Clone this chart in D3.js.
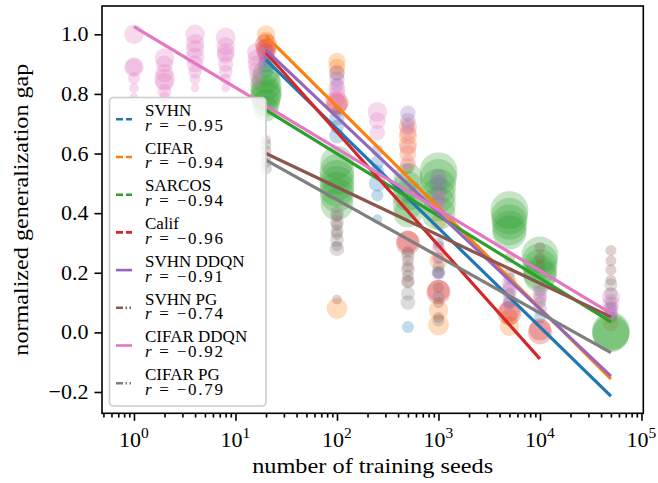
<!DOCTYPE html>
<html><head><meta charset="utf-8">
<script src="https://cdn.jsdelivr.net/npm/d3@7"></script>
<style>
body{margin:0;background:#fff}
svg{display:block}
text{font-family:"Liberation Serif","Times New Roman",serif;fill:#000}
</style>
</head><body>
<svg id="chart" width="658" height="483"></svg>
<script>
// ---------------- data ----------------
const seriesNames = ["SVHN","CIFAR","SARCOS","Calif","SVHN DDQN","SVHN PG","CIFAR DDQN","CIFAR PG"];
const seriesR = ["\u22120.95","\u22120.94","\u22120.94","\u22120.96","\u22120.91","\u22120.74","\u22120.92","\u22120.79"];
const xTicks = [1,10,100,1000,10000,100000];
const yTicks = [-0.2,0,0.2,0.4,0.6,0.8,1.0];

// points: [number of training seeds, normalized gap, marker size]
const svhnPts = [[20,0.92,40],[20,0.90,60],[20,0.88,50],[100,0.74,30],[100,0.72,50],[100,0.69,40],[100,0.66,50],
  [250,0.61,30],[250,0.57,40],[250,0.54,40],[250,0.50,60],[250,0.46,30],[250,0.38,20],[500,0.55,25],[500,0.45,30],[500,0.018,30],
  [1000,0.30,25],[1000,0.20,35],[5000,0.10,30],[10000,0.05,30],[50000,0.08,25],[50000,0.05,30]];
const cifarPts = [[20,1.0,70],[20,0.98,60],[20,0.96,50],[100,0.91,60],[100,0.89,60],[100,0.87,50],[100,0.08,90],
  [500,0.69,70],[500,0.66,70],[500,0.63,70],[500,0.60,60],[500,0.56,50],[1000,0.37,50],[1000,0.24,70],[1000,0.075,80],[1000,0.025,90],
  [5000,0.05,60],[5000,0.02,80],[50000,0.03,50]];
const sarcosPts = [[20,0.87,140],[20,0.85,170],[20,0.83,200],[20,0.81,200],[20,0.80,200],[20,0.79,190],[20,0.77,160],[20,0.75,130],
  [100,0.57,230],[100,0.54,250],[100,0.52,250],[100,0.50,250],[100,0.48,250],[100,0.46,240],[100,0.43,220],
  [500,0.52,170],[500,0.49,190],[500,0.46,200],[500,0.43,190],[500,0.40,170],
  [1000,0.54,300],[1000,0.52,280],[1000,0.49,260],[1000,0.46,250],[1000,0.43,250],[1000,0.40,240],
  [5000,0.41,300],[5000,0.39,280],[5000,0.37,260],[5000,0.35,250],[5000,0.335,240],
  [10000,0.26,280],[10000,0.24,260],[10000,0.22,250],[10000,0.20,240],[10000,0.19,230],
  [50000,0.005,300],[50000,0.0,290],[50000,-0.005,280]];
const califPts = [[20,0.965,100],[20,0.95,90],[20,0.94,70],[100,0.77,110],[100,0.765,90],
  [500,0.30,120],[500,0.305,100],[1000,0.135,120],[1000,0.14,100],[5000,0.065,120],[5000,0.07,90],[10000,0.0,120],[10000,0.01,100]];
const svhnDdqnPts = [[20,0.93,50],[20,0.91,40],[100,0.87,50],[100,0.85,50],[100,0.83,40],
  [500,0.735,50],[500,0.71,50],[500,0.69,40],[1000,0.52,60],[1000,0.50,60],[1000,0.47,50],[1000,0.44,40],[1000,0.20,40],
  [5000,0.15,40],[5000,0.10,40],[10000,0.12,40],[10000,0.08,40],[50000,0.08,40],[50000,0.06,40]];
const svhnPgPts = [[20,0.645,20],[20,0.61,25],[20,0.57,25],[100,0.39,30],[100,0.36,30],[100,0.33,30],[100,0.29,25],[100,0.11,20],
  [500,0.27,30],[500,0.24,30],[500,0.22,30],[500,0.19,30],[500,0.17,30],
  [1000,0.29,25],[1000,0.25,25],[1000,0.20,25],[1000,0.15,25],[1000,0.10,25],[1000,0.05,25],
  [5000,0.25,25],[5000,0.20,25],[10000,0.285,25],[10000,0.25,25],[10000,0.22,25],
  [50000,0.275,25],[50000,0.24,25],[50000,0.21,25],[50000,0.175,25]];
const cifarDdqnPts = [[1,1.0,80],[1,0.89,80],[1,0.89,60],[1,0.853,30],[1,0.82,20],[1,0.79,15],
  [2,0.92,80],[2,0.90,60],[2,0.87,70],[2,0.85,90],[2,0.84,70],[2,0.81,40],[2,0.79,25],[2,0.77,20],
  [4,1.0,80],[4,0.97,70],[4,0.95,70],[4,0.925,70],[4,0.90,60],[4,0.875,40],[4,0.85,25],[4,0.82,15],
  [8,0.99,80],[8,0.96,70],[8,0.94,70],[8,0.93,60],[8,0.90,50],[8,0.875,40],[8,0.85,25],[8,0.82,15],
  [16,0.94,70],[16,0.92,60],[16,0.90,60],[16,0.88,50],[16,0.86,40],[16,0.84,30],
  [100,0.82,60],[100,0.80,60],[100,0.78,50],[250,0.74,80],[250,0.71,60],[250,0.67,50],
  [500,0.67,60],[500,0.62,60],[500,0.57,50],[1000,0.45,50],[1000,0.42,50],[1000,0.28,40],[1000,0.25,40],
  [5000,0.165,50],[5000,0.14,50],[5000,0.12,40],[10000,0.14,50],[10000,0.11,40],
  [50000,0.12,70],[50000,0.10,60],[50000,0.08,50],[50000,0.06,40]];
const cifarPgPts = [[20,0.63,25],[20,0.59,25],[20,0.55,30],[100,0.40,40],[100,0.37,40],[100,0.34,35],[100,0.31,40],[100,0.28,45],
  [500,0.26,40],[500,0.21,40],[500,0.17,40],[500,0.13,40],[500,0.10,45],[1000,0.22,30],[1000,0.12,30],[1000,0.04,30],
  [5000,0.18,30],[5000,0.13,30],[10000,0.14,30],[10000,0.10,30],[50000,0.16,35],[50000,0.13,35],[50000,0.10,30]];

// fitted regression lines: x range and y at the ends
const fitX = [[20,50000],[20,50000],[20,50000],[20,10000],[20,50000],[20,50000],[1,50000],[20,50000]];
const fitY = [[0.914,-0.214],[0.994,-0.156],[0.746,0.035],[0.938,-0.089],[0.947,-0.147],[0.60,0.052],[1.026,0.064],[0.578,-0.068]];

const seriesPts = [svhnPts,cifarPts,sarcosPts,califPts,svhnDdqnPts,svhnPgPts,cifarDdqnPts,cifarPgPts];

// ---------------- style ----------------
const colors = ["#1f77b4","#ff7f0e","#2ca02c","#d62728","#9467bd","#8c564b","#e377c2","#7f7f7f"];
const handleDash = ["7,3","7,3","7,3","7,3",null,"7,2.5,1.5,2.5,1.5,2",null,"7,2.5,1.5,2.5,1.5,2"];

const svg = d3.select("#chart");
const L = 102, R = 643.3, T = 6, B = 413.3;
const x = d3.scaleLog().domain([Math.pow(10,-0.315), Math.pow(10,5.018)]).range([L, R]);
const y = d3.scaleLinear().domain([-0.2715, 1.095]).range([B, T]);
const r = d3.scaleSqrt().domain([0, 300]).range([0, 19]);

const plot = svg.append("g");
svg.append("clipPath").attr("id","clp").append("rect").attr("x",L).attr("y",T).attr("width",R-L).attr("height",B-T);
const inner = plot.append("g").attr("clip-path","url(#clp)");

// scatter
seriesPts.forEach((pts, i) => {
  inner.append("g").selectAll("circle").data(pts).join("circle")
    .attr("cx", d => x(d[0])).attr("cy", d => y(d[1])).attr("r", d => r(d[2]))
    .attr("fill", colors[i]).attr("fill-opacity", 0.27);
});
// fit lines
fitX.forEach((xs, i) => {
  inner.append("line")
    .attr("x1", x(xs[0])).attr("x2", x(xs[1]))
    .attr("y1", y(fitY[i][0])).attr("y2", y(fitY[i][1]))
    .attr("stroke", colors[i]).attr("stroke-width", 3.2);
});

// axes
const gx = svg.append("g").attr("transform", `translate(0,${B})`)
  .call(d3.axisBottom(x).tickValues(xTicks).tickSize(7.5).tickFormat(() => ""));
const minor = [];
for (let e = -1; e <= 5; e++) for (let m = 2; m <= 9; m++) { const v = m*Math.pow(10,e); if (v >= x.domain()[0] && v <= x.domain()[1]) minor.push(v); }
const gxm = svg.append("g").attr("transform", `translate(0,${B})`)
  .call(d3.axisBottom(x).tickValues(minor).tickSize(4.3).tickFormat(() => ""));
[gx, gxm].forEach(g => { g.select(".domain").remove(); g.selectAll("line").attr("stroke","#000").attr("stroke-width",1.6); });

const gy = svg.append("g").attr("transform", `translate(${L},0)`)
  .call(d3.axisLeft(y).tickValues(yTicks).tickSize(7.5).tickFormat(() => ""));
gy.select(".domain").remove();
gy.selectAll("line").attr("stroke","#000").attr("stroke-width",1.6);

// tick labels
xTicks.forEach(v => {
  const t = svg.append("text").attr("x", x(v)).attr("y", 446.5).attr("text-anchor","middle").style("font-size","22px");
  t.append("tspan").text("10");
  t.append("tspan").attr("dy", -9).style("font-size","15.5px").text(String(Math.round(Math.log10(v))));
});
yTicks.forEach(v => {
  svg.append("text").attr("x", 88.5).attr("y", y(v) + 7).attr("text-anchor","end").style("font-size","22px")
    .text((v < 0 ? "\u2212" : "") + Math.abs(v).toFixed(1));
});

// frame
svg.append("rect").attr("x",L).attr("y",T).attr("width",R-L).attr("height",B-T)
  .attr("fill","none").attr("stroke","#000").attr("stroke-width",1.6);

// axis labels
svg.append("text").attr("x", (L+R)/2).attr("y", 473).attr("text-anchor","middle").style("font-size","22px")
  .attr("textLength", 241).attr("lengthAdjust","spacingAndGlyphs").text("number of training seeds");
svg.append("text").attr("transform", `translate(28,${(T+B)/2}) rotate(-90)`).attr("text-anchor","middle").style("font-size","22px")
  .attr("textLength", 292).attr("lengthAdjust","spacingAndGlyphs").text("normalized generalization gap");

// legend
const lg = svg.append("g");
lg.append("rect").attr("x",109.5).attr("y",97.5).attr("width",156.5).attr("height",308.5).attr("rx",4)
  .attr("fill","#fff").attr("fill-opacity",0.8).attr("stroke","#cccccc").attr("stroke-width",1.6);
seriesNames.forEach((name, i) => {
  const oy = i * 37.7;
  lg.append("line").attr("x1",116).attr("x2",132).attr("y1",119.3+oy).attr("y2",119.3+oy)
    .attr("stroke",colors[i]).attr("stroke-width",2.6).attr("stroke-dasharray", handleDash[i]);
  lg.append("text").attr("x",145).attr("y",116+oy).style("font-size","17px").text(name);
  const t2 = lg.append("text").attr("x",145).attr("y",130.7+oy).style("font-size","17px")
    .attr("textLength",78).attr("lengthAdjust","spacing");
  t2.append("tspan").style("font-style","italic").text("r");
  t2.append("tspan").text(" = " + seriesR[i]);
});
</script>
</body></html>
